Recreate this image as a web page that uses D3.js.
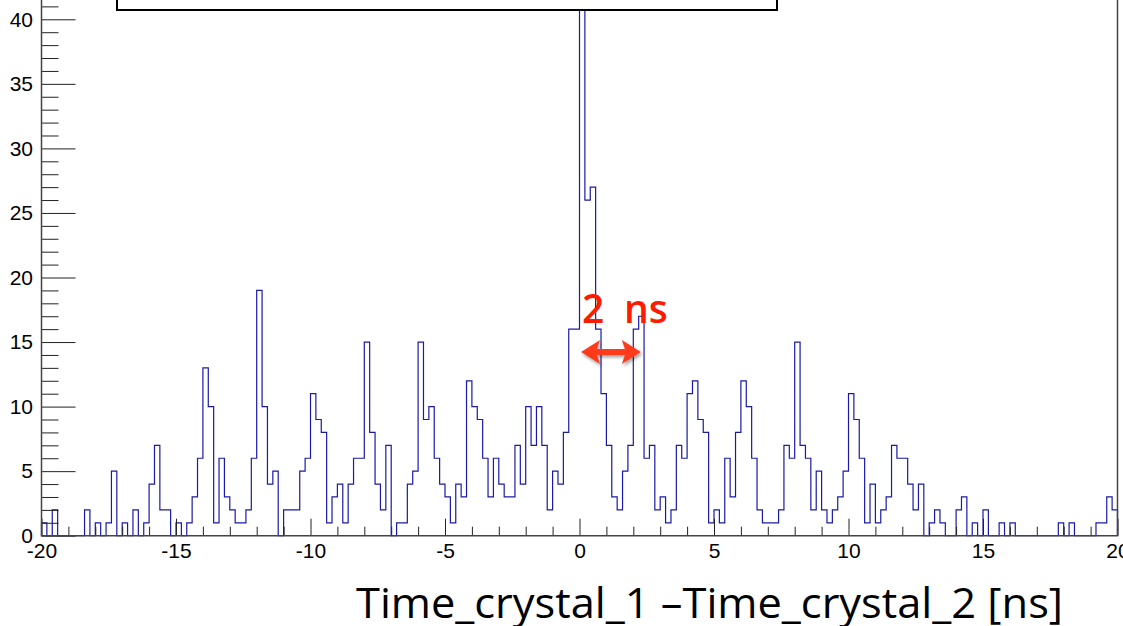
<!DOCTYPE html>
<html>
<head>
<meta charset="utf-8">
<script src="https://cdn.jsdelivr.net/npm/d3@7"></script>
<style>
  body { margin: 0; background: #fff; }
  svg { display: block; }
  .tick text { font-family: "Liberation Sans", Arial, sans-serif; font-size: 21px; fill: #000; }
</style>
</head>
<body>
<svg class="chart" width="1123" height="626"></svg>
<script>
// histogram of time differences, 200 bins of 0.2 ns from -20 to 20
var xRange = [-20, 20],
    binWidth = 0.2;

var counts = [
  1, 0, 2, 0, 0, 0, 0, 0, 2, 0,
  1, 0, 1, 5, 0, 1, 0, 2, 0, 1,
  4, 7, 2, 2, 0, 1, 0, 1, 3, 6,
  13, 10, 1, 6, 3, 2, 1, 1, 2, 6,
  19, 10, 4, 5, 0, 2, 2, 2, 5, 6,
  11, 9, 8, 1, 3, 4, 1, 4, 6, 6,
  15, 8, 4, 2, 7, 0, 1, 1, 4, 5,
  15, 9, 10, 6, 4, 3, 1, 4, 3, 12,
  10, 9, 6, 3, 6, 4, 3, 3, 7, 4,
  10, 7, 10, 7, 2, 5, 4, 8, 16, 16,
  44, 26, 27, 16, 11, 7, 3, 2, 5, 7,
  16, 17, 6, 7, 2, 3, 1, 2, 7, 6,
  11, 12, 9, 8, 1, 2, 1, 6, 3, 8,
  12, 10, 6, 2, 1, 1, 1, 2, 7, 6,
  15, 7, 6, 2, 5, 2, 1, 2, 3, 5,
  11, 9, 6, 1, 4, 1, 2, 3, 7, 6,
  6, 4, 2, 4, 0, 1, 2, 1, 0, 0,
  2, 3, 0, 1, 0, 2, 0, 0, 1, 0,
  1, 0, 0, 0, 0, 0, 0, 0, 0, 1,
  0, 1, 0, 0, 0, 0, 1, 1, 3, 2
];

var xMajorTicks = [-20, -15, -10, -5, 0, 5, 10, 15, 20],
    yMajorTicks = [0, 5, 10, 15, 20, 25, 30, 35, 40],
    yTop = 41;

var xTitle = "Time_crystal_1 \u2013Time_crystal_2 [ns]",
    arrowLabel = ["2", "ns"],
    arrowSpan = [0, 2.3];

var svg = d3.select(".chart"),
    width = +svg.attr("width"),
    height = +svg.attr("height");

var x = d3.scaleLinear().domain(xRange).range([41.5, 1117.5]);
var y = d3.scaleLinear().domain([0, 40]).range([535.7, 19.3]);

// plain hyphen for negatives, like the ROOT labels
var fmt = function(d) { return String(d); };

var defs = svg.append("defs");
var shadow = defs.append("filter").attr("id", "shadow")
    .attr("x", "-20%").attr("y", "-50%").attr("width", "140%").attr("height", "200%");
shadow.append("feDropShadow")
    .attr("dx", 1.5).attr("dy", 2.5).attr("stdDeviation", 1.5)
    .attr("flood-color", "#000").attr("flood-opacity", 0.35);

// histogram outline
var pts = [[xRange[0], 0]];
counts.forEach(function(c, i) { pts.push([xRange[0] + i * binWidth, c]); });
pts.push([xRange[1], counts[counts.length - 1]]);
pts.push([xRange[1], 0]);

var line = d3.line()
    .x(function(d) { return x(d[0]); })
    .y(function(d) { return y(d[1]); })
    .curve(d3.curveStepAfter);

svg.append("path")
    .datum(pts)
    .attr("d", line)
    .attr("fill", "none")
    .attr("stroke", "#1a1aa6")
    .attr("stroke-width", 1.2);

// minor ticks
var yMinor = d3.range(0, yTop + 1).filter(function(v) { return v % 5 !== 0; });
svg.append("g")
    .attr("transform", "translate(" + x.range()[0] + ",0)")
    .call(d3.axisLeft(y).tickValues(yMinor).tickSizeInner(-17).tickSizeOuter(0).tickFormat(""))
    .call(function(g) { g.select(".domain").remove(); g.selectAll("line").attr("stroke", "#222"); });

var xMinor = d3.range(xRange[0], xRange[1] + 1).filter(function(v) { return v % 5 !== 0; });
svg.append("g")
    .attr("transform", "translate(0," + y(0) + ")")
    .call(d3.axisBottom(x).tickValues(xMinor).tickSizeInner(-9).tickSizeOuter(0).tickFormat(""))
    .call(function(g) { g.select(".domain").remove(); g.selectAll("line").attr("stroke", "#222"); });

// major ticks with labels
svg.append("g")
    .attr("transform", "translate(" + x.range()[0] + ",0)")
    .call(d3.axisLeft(y).tickValues(yMajorTicks).tickSizeInner(-34).tickSizeOuter(0).tickPadding(8.5).tickFormat(fmt))
    .call(function(g) { g.select(".domain").remove(); g.selectAll("line").attr("stroke", "#222"); });

svg.append("g")
    .attr("transform", "translate(0," + y(0) + ")")
    .call(d3.axisBottom(x).tickValues(xMajorTicks).tickSizeInner(-17).tickSizeOuter(0).tickPadding(7.5).tickFormat(fmt))
    .call(function(g) { g.select(".domain").remove(); g.selectAll("line").attr("stroke", "#222"); });

// frame
svg.append("path")
    .attr("d", "M" + x.range()[0] + ",-5V" + y(0) + "H" + x.range()[1] + "V-5")
    .attr("fill", "none")
    .attr("stroke", "#444")
    .attr("stroke-width", 1.5);

// stats box (top cut off)
svg.append("rect")
    .attr("x", 117).attr("y", -200)
    .attr("width", 660).attr("height", 210)
    .attr("fill", "#fff")
    .attr("stroke", "#000")
    .attr("stroke-width", 2);

// 2 ns arrow
var ay = 352, ax0 = x(arrowSpan[0]) + 1.5, ax1 = x(arrowSpan[1]) - 0.5, hl = 19, hh = 12, lw = 3;
svg.append("path")
    .attr("d", "M" + ax0 + "," + ay +
      "L" + (ax0 + hl) + "," + (ay - hh) +
      "L" + (ax0 + hl - 3) + "," + (ay - lw) +
      "L" + (ax1 - hl + 3) + "," + (ay - lw) +
      "L" + (ax1 - hl) + "," + (ay - hh) +
      "L" + ax1 + "," + ay +
      "L" + (ax1 - hl) + "," + (ay + hh) +
      "L" + (ax1 - hl + 3) + "," + (ay + lw) +
      "L" + (ax0 + hl - 3) + "," + (ay + lw) +
      "L" + (ax0 + hl) + "," + (ay + hh) + "Z")
    .attr("fill", "#ff3b1c")
    .attr("filter", "url(#shadow)");

var lab = svg.append("text")
    .attr("y", 323)
    .attr("fill", "#ff1a00")
    .style("font-family", "'Open Sans', sans-serif")
    .style("font-size", "39px")
    .style("font-weight", 600);
lab.append("tspan").attr("x", 582).text(arrowLabel[0]);
lab.append("tspan").attr("x", 624).text(arrowLabel[1]);

// x title
svg.append("text")
    .attr("x", 356).attr("y", 618)
    .attr("textLength", 707)
    .attr("lengthAdjust", "spacingAndGlyphs")
    .style("font-family", "'Open Sans', sans-serif")
    .style("font-size", "42px")
    .attr("fill", "#000")
    .text(xTitle);
</script>
</body>
</html>
